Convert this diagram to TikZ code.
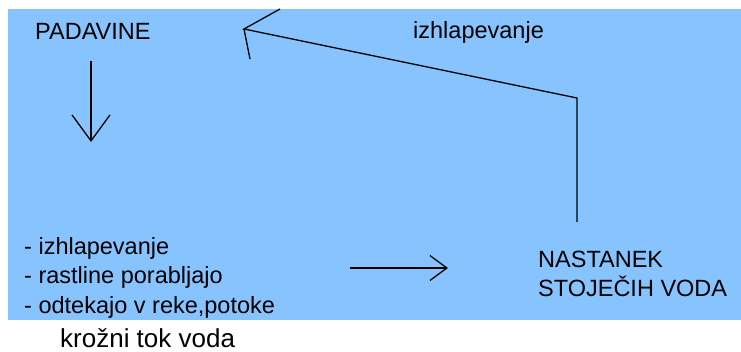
\documentclass[tikz,border=0pt]{standalone}
\usepackage{fontspec}
\setmainfont{Liberation Sans}
\usetikzlibrary{arrows.meta}
\definecolor{skyblue}{RGB}{135,196,255}

\begin{document}
\begin{tikzpicture}[x=1pt,y=-1pt,
  lbl/.style={anchor=base west,inner sep=0pt,font=\fontsize{23.5}{28}\selectfont},
  stroke/.style={line width=1.3pt}]
\useasboundingbox (0,0) rectangle (741,351);
% light blue panel
\fill[skyblue] (8,9) rectangle (741,320);
% labels
\node[lbl] (padavine) at (35,39) {PADAVINE};
\node[lbl] (izhl) at (413,38) {izhlapevanje};
\node[lbl] (item1) at (24,254) {- izhlapevanje};
\node[lbl] (item2) at (24,283) {- rastline porabljajo};
\node[lbl] (item3) at (24,313) {- odtekajo v reke,potoke};
\node[lbl] (nastanek) at (538,267) {NASTANEK};
\node[lbl] (stojecih) at (538,296) {STOJEČIH VODA};
\node[lbl,font=\fontsize{26}{30}\selectfont] (caption) at (60,347) {krožni tok voda};
% arrow ends
\coordinate (rainfrom) at (91,61);
\coordinate (rainto) at (91,142);
\coordinate (flowfrom) at (350,268);
\coordinate (flowto) at (448,268);
% evaporation loop
\coordinate (rise) at (577,222);
\coordinate (bend) at (577,98);
\coordinate (tip) at (244,29);
\coordinate (barbup) at (280,9);
\coordinate (barbdown) at (250,59);
\draw[stroke,-{Straight Barb[length=26pt,width=38pt,line width=1.3pt]}] (rainfrom) -- (rainto);
\draw[stroke,-{Straight Barb[length=17pt,width=25pt,line width=1.3pt]}] (flowfrom) -- (flowto);
\draw[stroke] (rise) -- (bend) -- (tip) -- (barbup);
\draw[stroke] (tip) -- (barbdown);
\end{tikzpicture}
\end{document}
